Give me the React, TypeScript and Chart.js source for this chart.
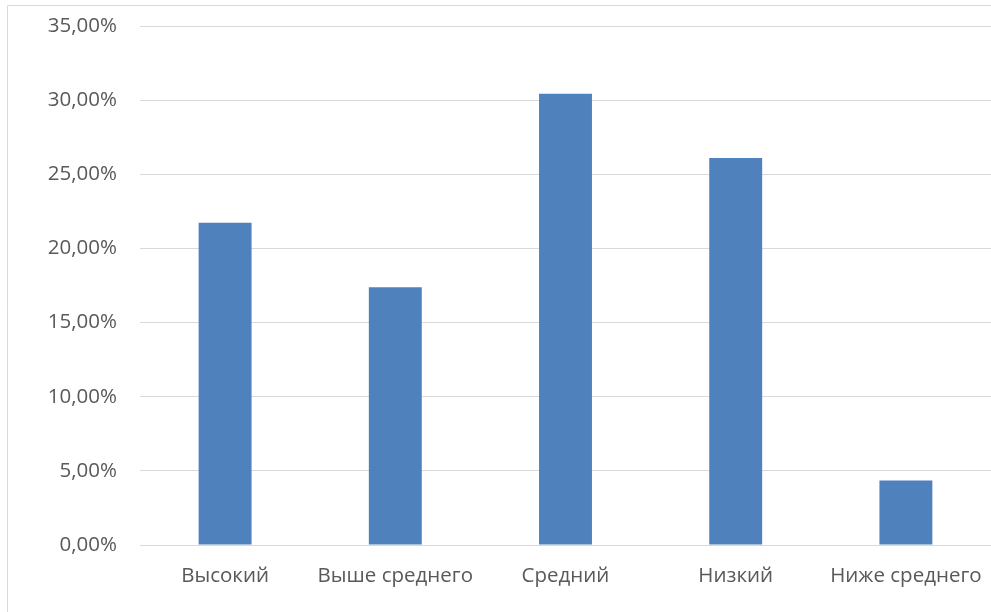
import React, { useEffect, useRef } from "react";
import { Chart, registerables } from "chart.js";

Chart.register(...registerables);

const categories = ["Высокий", "Выше среднего", "Средний", "Низкий", "Ниже среднего"];
const values = [21.74, 17.39, 30.43, 26.09, 4.35];
const yMax = 35;
const yStep = 5;

const borderPlugin = {
  id: "outerBorder",
  beforeDraw(chart: any) {
    const ctx = chart.ctx;
    ctx.save();
    ctx.strokeStyle = "#d9d9d9";
    ctx.lineWidth = 1;
    ctx.beginPath();
    ctx.moveTo(7.5, 2000);
    ctx.lineTo(7.5, 5.5);
    ctx.lineTo(2000, 5.5);
    ctx.stroke();
    ctx.restore();
  },
};

export default function App() {
  const ref = useRef<HTMLCanvasElement>(null);
  useEffect(() => {
    if (!ref.current) return;
    const chart = new Chart(ref.current, {
      type: "bar",
      data: {
        labels: categories,
        datasets: [
          {
            data: values,
            backgroundColor: "#4f81bd",
            borderWidth: 0,
            barPercentage: 0.311,
            categoryPercentage: 1,
          },
        ],
      },
      options: {
        animation: false,
        responsive: false,
        maintainAspectRatio: false,
        layout: { padding: { top: 26, left: 0, right: 0, bottom: 0 } },
        plugins: { legend: { display: false }, tooltip: { enabled: false } },
        scales: {
          x: {
            grid: { display: false },
            border: { display: false },
            ticks: {
              color: "#595959",
              font: { family: "Open Sans", size: 20.5 },
              padding: 11,
              maxRotation: 0,
              autoSkip: false,
            },
            afterFit(scale: any) {
              scale.height = 67;
              scale.paddingLeft = 0;
              scale.paddingRight = 0;
            },
          },
          y: {
            min: 0,
            max: yMax,
            ticks: {
              stepSize: yStep,
              color: "#595959",
              font: { family: "Open Sans", size: 20.5 },
              padding: 23,
              callback: (v: any) => Number(v).toFixed(2).replace(".", ",") + "%",
            },
            grid: { color: "#d9d9d9", drawTicks: false, lineWidth: 1 },
            border: { display: false },
            afterFit(scale: any) {
              scale.width = 140;
              scale.paddingTop = 0;
              scale.paddingBottom = 0;
            },
          },
        },
      },
      plugins: [borderPlugin],
    });
    return () => chart.destroy();
  }, []);
  return (
    <div style={{ position: "fixed", left: 0, top: 0, width: 991, height: 612, background: "#fff" }}>
      <canvas ref={ref} width={991} height={612} style={{ display: "block" }} />
    </div>
  );
}
